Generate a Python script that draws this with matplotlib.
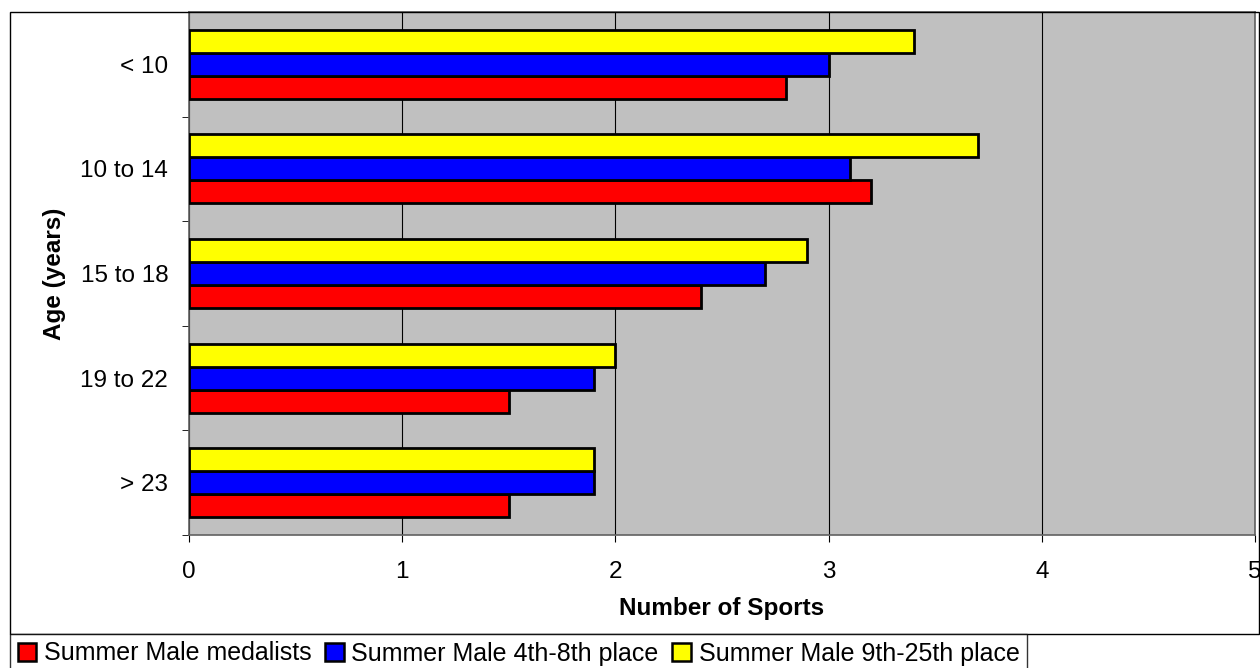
import numpy as np
import matplotlib.pyplot as plt
from matplotlib.patches import Patch, Rectangle

plt.rcParams['font.family'] = ['Liberation Sans', 'DejaVu Sans']

# data
age_groups = ["< 10", "10 to 14", "15 to 18", "19 to 22", "> 23"]
medalists = [2.8, 3.2, 2.4, 1.5, 1.5]
place_4_8 = [3.0, 3.1, 2.7, 1.9, 1.9]
place_9_25 = [3.4, 3.7, 2.9, 2.0, 1.9]
series_names = ["Summer Male medalists", "Summer Male 4th-8th place",
                "Summer Male 9th-25th place"]
colors = ["#FF0000", "#0000FF", "#FFFF00"]

fig = plt.figure(figsize=(12.6, 6.68), dpi=100)
ax = fig.add_axes([189 / 1260, 1 - 535 / 668, 1066 / 1260, 523 / 668])
ax.set_facecolor("#C0C0C0")

# outer chart frame
fig.patches.append(Rectangle((10 / 1260, 1 - 634 / 668), 1249 / 1260, 622 / 668,
                             transform=fig.transFigure, fill=False,
                             edgecolor="black", linewidth=1.0))

n = len(age_groups)
y = np.arange(n)[::-1].astype(float)
h = 0.22
for i, vals in enumerate([medalists, place_4_8, place_9_25]):
    offset = (i - 1) * h
    ax.barh(y + offset, vals, height=h, color=colors[i], edgecolor="black",
            linewidth=2.0, zorder=3, label=series_names[i])

ax.set_xlim(0, 5)
ax.set_ylim(-0.5, n - 0.5)
ax.set_xticks(range(6))
ax.set_yticks(y)
ax.set_yticklabels(age_groups)
ax.set_yticks(np.arange(n + 1) - 0.5, minor=True)
ax.tick_params(axis="y", which="major", length=0, pad=15, labelsize=17.5)
ax.tick_params(axis="y", which="minor", length=5, direction="out", color="black")
ax.tick_params(axis="x", length=5, direction="out", labelsize=17.5, pad=14)
ax.grid(axis="x", color="black", linewidth=0.8, zorder=1)
for s in ax.spines.values():
    s.set_color("#606060")
    s.set_linewidth(1.2)

ax.set_xlabel("Number of Sports", fontsize=17.5, fontweight="bold", labelpad=10)
ax.set_ylabel("Age (years)", fontsize=17.5, fontweight="bold", labelpad=10)

handles = [Patch(facecolor=c, edgecolor="black", linewidth=1.8) for c in colors]
leg = fig.legend(handles, series_names, loc="lower left",
                 bbox_to_anchor=(10 / 1260, -5 / 668), ncol=3, fontsize=18,
                 frameon=True, fancybox=False, handlelength=0.75,
                 handleheight=0.75, handletextpad=0.3, columnspacing=0.55,
                 borderpad=0.3, borderaxespad=0)
leg.get_frame().set_edgecolor("black")
leg.get_frame().set_linewidth(1.0)

fig.savefig("out.png", dpi=100)
